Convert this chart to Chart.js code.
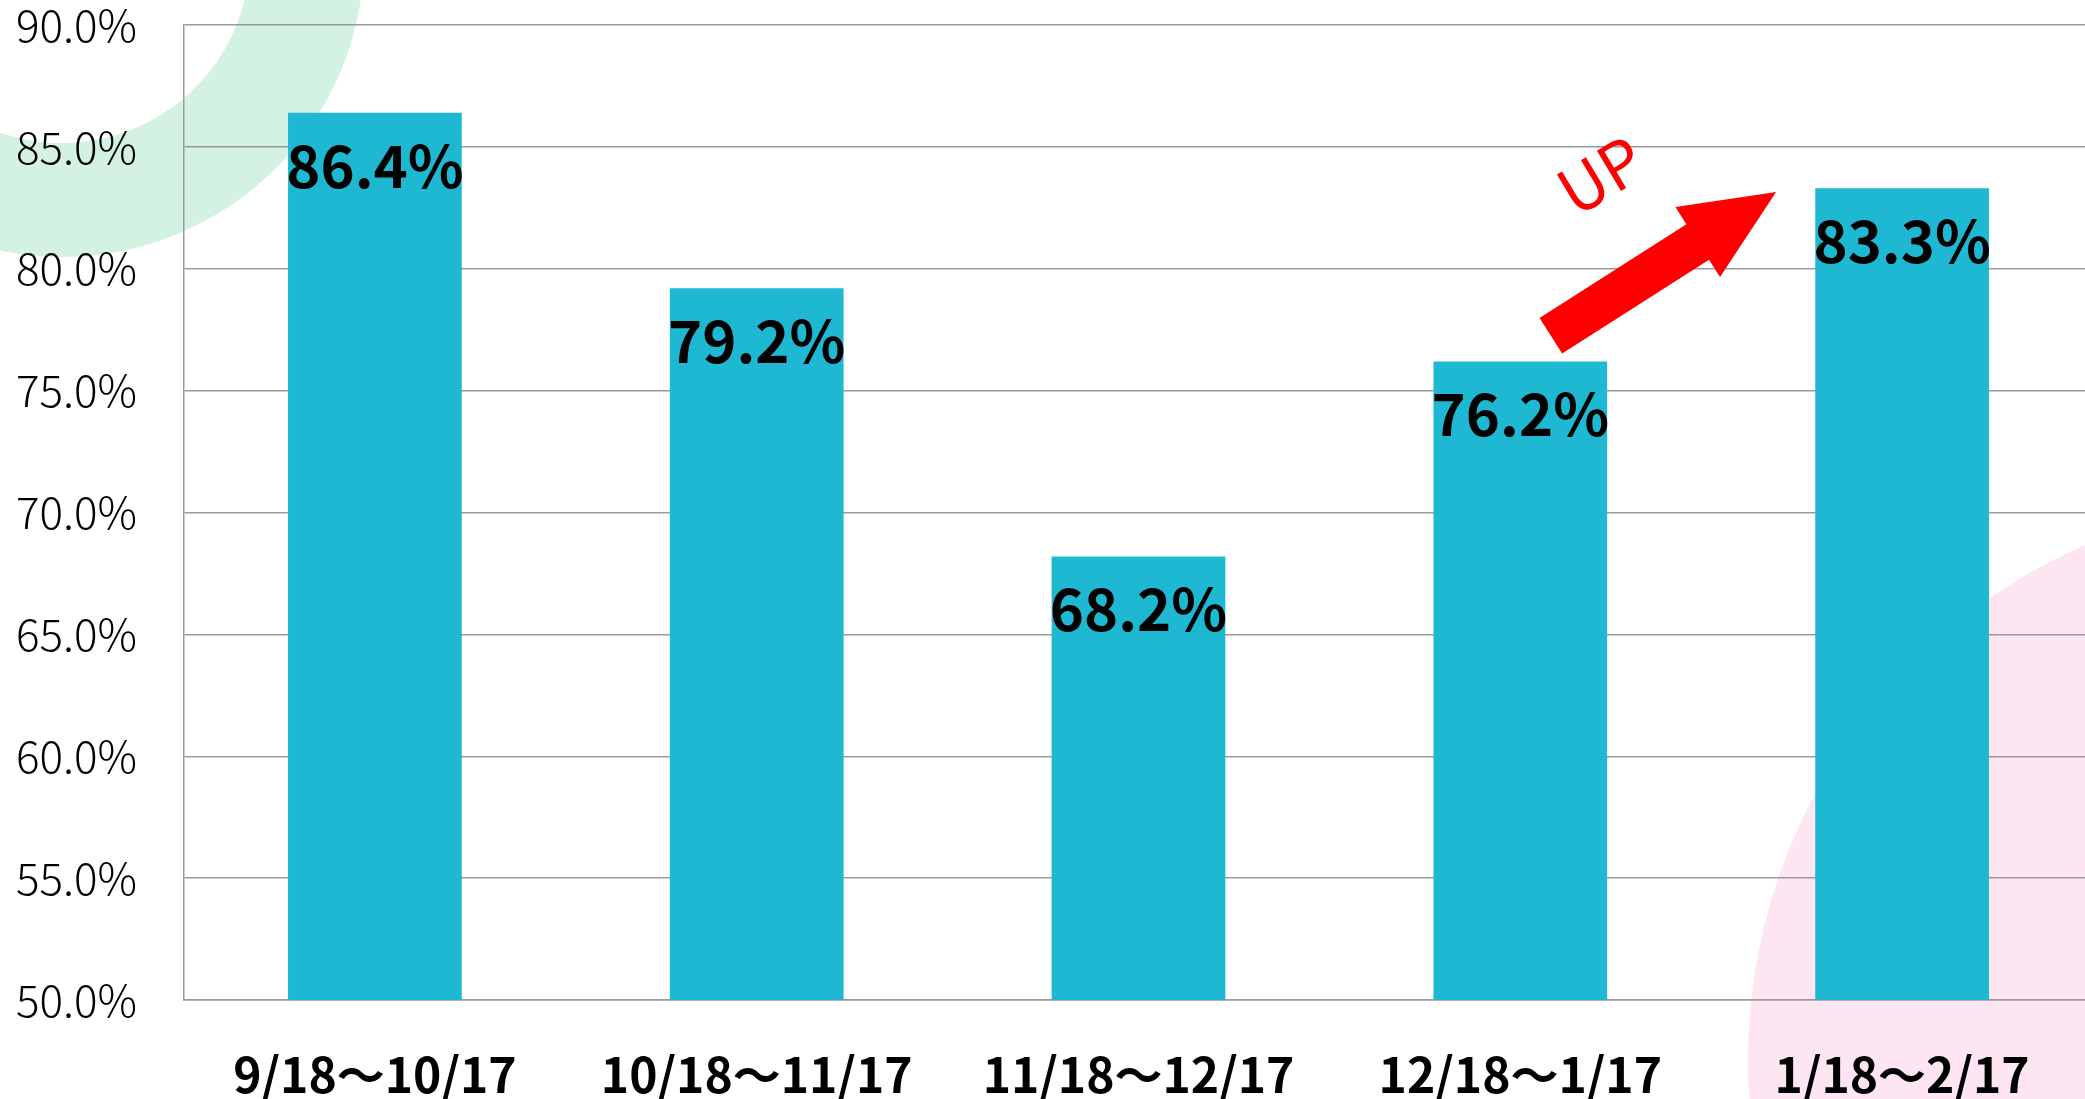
<!DOCTYPE html>
<html>
<head>
<meta charset="utf-8">
<script src="https://cdn.jsdelivr.net/npm/chart.js@4"></script>
<style>
  html, body { margin: 0; padding: 0; background: #fff; overflow: hidden; }
  #wrap { width: 2093px; height: 1099px; position: relative; }
</style>
</head>
<body>
<div id="wrap"><canvas id="barChart"></canvas></div>
<script>
const categories = ['9/18〜10/17', '10/18〜11/17', '11/18〜12/17', '12/18〜1/17', '1/18〜2/17'];
const rates = [86.4, 79.2, 68.2, 76.2, 83.3];
const yTicks = [50, 55, 60, 65, 70, 75, 80, 85, 90];

const FONT = '"Noto Sans CJK JP", "Noto Sans", sans-serif';

// decorative circles behind the plot
const backdrop = {
  id: 'backdrop',
  beforeDraw(chart) {
    const c = chart.ctx;
    c.save();
    c.fillStyle = '#ffffff';
    c.fillRect(0, 0, chart.width, chart.height);
    // green ring, top left
    c.fillStyle = '#d3f2e1';
    c.beginPath();
    c.arc(62, -45, 302, 0, Math.PI * 2);
    c.arc(62, -45, 188, 0, Math.PI * 2, true);
    c.fill();
    // pink disc, bottom right
    c.fillStyle = '#fde5f1';
    c.beginPath();
    c.arc(2310, 1060, 562, 0, Math.PI * 2);
    c.fill();
    c.restore();
  }
};

// value labels inside bar tops
const barLabels = {
  id: 'barLabels',
  afterDatasetsDraw(chart) {
    const c = chart.ctx;
    const meta = chart.getDatasetMeta(0);
    c.save();
    c.font = 'bold 58px ' + FONT;
    c.fillStyle = '#000';
    c.textAlign = 'center';
    c.textBaseline = 'alphabetic';
    meta.data.forEach((bar, i) => {
      c.fillText(rates[i].toFixed(1) + '%', bar.x, bar.y + 75);
    });
    c.restore();
  }
};

// red "UP" arrow between the last two bars
const upArrow = {
  id: 'upArrow',
  afterDraw(chart) {
    const x = chart.scales.x, y = chart.scales.y;
    const x0 = x.getPixelForValue(3.08), y0 = y.getPixelForValue(77.25);
    const x1 = x.getPixelForValue(3.67), y1 = y.getPixelForValue(83.15);
    const len = Math.hypot(x1 - x0, y1 - y0);
    const ang = Math.atan2(y1 - y0, x1 - x0);
    const shaft = 21, head = 41.5, headLen = 93;
    const c = chart.ctx;
    c.save();
    c.translate(x0, y0);
    c.rotate(ang);
    c.fillStyle = '#ff0000';
    c.beginPath();
    c.moveTo(0, -shaft);
    c.lineTo(len - headLen, -shaft);
    c.lineTo(len - headLen, -head);
    c.lineTo(len, 0);
    c.lineTo(len - headLen, head);
    c.lineTo(len - headLen, shaft);
    c.lineTo(0, shaft);
    c.closePath();
    c.fill();
    c.restore();

    c.save();
    c.translate(x.getPixelForValue(3.21), y.getPixelForValue(83.85));
    c.rotate(-31 * Math.PI / 180);
    c.font = '64px ' + FONT;
    c.fillStyle = '#ff0000';
    c.textAlign = 'center';
    c.textBaseline = 'middle';
    c.fillText('UP', 0, 0);
    c.restore();
  }
};

const ctx = document.getElementById('barChart').getContext('2d');
const chart = new Chart(ctx, {
  type: 'bar',
  data: {
    labels: categories,
    datasets: [{
      data: rates,
      backgroundColor: '#1fb8d3',
      borderWidth: 0,
      barPercentage: 0.455,
      categoryPercentage: 1
    }]
  },
  options: {
    responsive: true,
    maintainAspectRatio: false,
    animation: false,
    layout: { padding: { top: 25, left: 0, right: 0, bottom: 0 } },
    scales: {
      x: {
        grid: { display: false, drawTicks: false },
        border: { color: '#9a9a9a', width: 1.5 },
        ticks: {
          color: '#000',
          padding: 46,
          maxRotation: 0,
          font: { family: FONT, size: 48, weight: 'bold' }
        },
        afterFit(scale) {
          scale.height = 99;
          scale.paddingLeft = 0;
          scale.paddingRight = 0;
        }
      },
      y: {
        min: 50,
        max: 90,
        afterBuildTicks(scale) { scale.ticks = yTicks.map(v => ({ value: v })); },
        grid: { color: '#9a9a9a', lineWidth: 1.5, drawTicks: false },
        border: { color: '#9a9a9a', width: 1.5 },
        ticks: {
          color: '#000',
          padding: 47,
          font: { family: FONT, size: 44, weight: 300 },
          callback: v => v.toFixed(1) + '%'
        },
        afterFit(scale) {
          scale.width = 184;
          scale.paddingTop = 0;
          scale.paddingBottom = 0;
        }
      }
    },
    plugins: {
      legend: { display: false },
      tooltip: { enabled: false }
    }
  },
  plugins: [backdrop, barLabels, upArrow]
});
</script>
</body>
</html>
